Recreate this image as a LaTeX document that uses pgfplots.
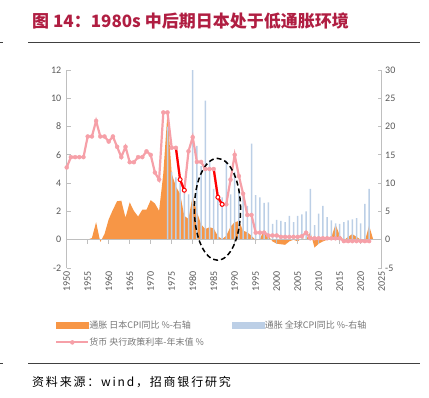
\documentclass[border=0pt]{standalone}
\usepackage{pgfplots}
\pgfplotsset{compat=1.18}
\usepackage{pgfplotstable}
\usepackage{fontspec}
\setmainfont{Carlito}
\newfontfamily\cjk{Noto Sans CJK SC}

\definecolor{orangeA}{RGB}{247,150,70}
\definecolor{barblue}{RGB}{188,207,230}
\definecolor{pinkL}{RGB}{246,160,168}
\definecolor{axisgray}{RGB}{191,191,191}
\definecolor{labelgray}{RGB}{89,89,89}
\definecolor{legendgray}{RGB}{118,118,118}
\definecolor{titlered}{RGB}{176,30,66}
\definecolor{rulegray}{RGB}{64,64,64}

\pgfplotstableread{
year jp
1955 0
1956 0.3
1957 3.1
1958 -0.4
1959 1.0
1960 3.6
1961 5.3
1962 6.8
1963 6.9
1964 3.9
1965 6.6
1966 5.1
1967 4.1
1968 5.3
1969 5.3
1970 7.0
1971 6.4
1972 5.1
1973 11.7
1974 22.5
1975 11.7
1976 9.4
1977 8.1
1978 4.2
1979 3.7
1980 7.8
1981 4.9
1982 2.7
1983 1.9
1984 2.2
1985 2.0
1986 0.6
1987 0.1
1988 0.7
1989 2.3
1990 3.1
1991 3.3
1992 1.6
1993 1.3
1994 0.7
1995 -0.1
1996 0.1
1997 1.8
1998 0.7
1999 -0.3
2000 -0.7
2001 -0.8
2002 -0.9
2003 -0.3
2004 0.0
2005 -0.3
2006 0.3
2007 0.0
2008 1.4
2009 -1.4
2010 -0.7
2011 -0.3
2012 0.0
2013 0.4
2014 2.7
2015 0.8
2016 -0.1
2017 0.5
2018 1.0
2019 0.5
2020 0.0
2021 -0.2
2022 2.5
2023 0.0
}\jpcpi

\pgfplotstableread{
year gl
1974 20
1975 12
1976 11
1977 10
1978 9
1979 8
1980 30
1981 16.6
1982 13
1983 24.6
1984 14
1985 9
1986 7
1987 7.5
1988 14
1989 8
1990 12
1991 9
1992 8
1993 6
1994 17
1995 7.9
1996 7.5
1997 6.5
1998 6.6
1999 2.8
2000 3.5
2001 3.35
2002 3.1
2003 4.2
2004 3.1
2005 4.2
2006 4.5
2007 5.0
2008 9.0
2009 2.6
2010 4.6
2011 6.0
2012 4.0
2013 3.4
2014 2.9
2015 2.8
2016 3.1
2017 3.4
2018 3.6
2019 3.8
2020 2.9
2021 6.35
2022 9.0
}\glcpi

\pgfplotstableread{
year r
1950 5.11
1951 5.84
1952 5.84
1953 5.84
1954 5.84
1955 7.30
1956 7.30
1957 8.40
1958 7.30
1959 7.30
1960 6.94
1961 7.30
1962 6.57
1963 5.84
1964 6.57
1965 5.48
1966 5.48
1967 5.84
1968 5.84
1969 6.25
1970 6.00
1971 4.75
1972 4.25
1973 9.00
1974 9.00
1975 6.50
1976 6.50
1977 4.25
1978 3.50
1979 6.25
1980 7.25
1981 5.50
1982 5.50
1983 5.00
1984 5.00
1985 5.00
1986 3.00
1987 2.50
1988 2.50
1989 4.25
1990 6.00
1991 4.50
1992 3.25
1993 1.75
1994 1.75
1995 0.50
1996 0.50
1997 0.50
1998 0.30
1999 0.30
2000 0.30
2001 0.20
2002 0.20
2003 0.20
2004 0.20
2005 0.20
2006 0.25
2007 0.50
2008 0.10
2009 0.10
2010 0.10
2011 0.10
2012 0.10
2013 0.10
2014 0.10
2015 0.10
2016 -0.10
2017 -0.10
2018 -0.10
2019 -0.10
2020 -0.10
2021 -0.10
2022 -0.10
}\rate

\pgfplotsset{
  swatchO/.style={legend image code/.code={\fill[orangeA] (0pt,-3pt) rectangle (32pt,3pt);}},
  swatchB/.style={legend image code/.code={\fill[barblue] (0pt,-3pt) rectangle (32pt,3pt);}},
  pinkleg/.style={legend image code/.code={\draw[mark repeat=2,mark phase=2,##1] plot coordinates {(0pt,0pt) (16pt,0pt) (32pt,0pt)};}},
}

\begin{document}
\begin{tikzpicture}
\useasboundingbox (0,0) rectangle (429pt,397pt);
\node[anchor=base west, inner sep=0pt, text=titlered, font=\cjk\bfseries\fontsize{17}{19}\selectfont] at (32pt,369.5pt) {图 14：1980s 中后期日本处于低通胀环境};
\draw[rulegray, line width=0.9pt] (28pt,354.7pt) -- (420pt,354.7pt);
\draw[rulegray, line width=0.9pt] (0pt,354.7pt) -- (3pt,354.7pt);
\draw[rulegray, line width=0.9pt] (28pt,33.7pt) -- (420pt,33.7pt);
\draw[rulegray, line width=0.9pt] (0pt,33.7pt) -- (3pt,33.7pt);
\node[anchor=base west, inner sep=0pt, font=\cjk\fontsize{12}{14}\selectfont\addfontfeatures{LetterSpace=15}] at (32pt,10.5pt) {资料来源：wind，招商银行研究};

\begin{axis}[
  at={(66.7pt,129pt)}, anchor=south west, scale only axis,
  width=315pt, height=198pt,
  xmin=1950, xmax=2025, ymin=-5, ymax=30,
  axis y line*=right, axis x line*=bottom,
  x axis line style={draw=none},
  xtick style={draw=none},
  xtick={1950,1955,...,2025},
  /pgf/number format/1000 sep={},
  /pgf/number format/assume math mode=true,
  xticklabel style={rotate=90, anchor=east, font=\fontsize{10}{12}\selectfont, text=labelgray},
  ytick={-5,0,...,30},
  tick align=inside, major tick length=4pt,
  yticklabel style={font=\fontsize{10}{12}\selectfont, text=labelgray},
  y axis line style={draw=axisgray, line width=0.8pt},
  ytick style={draw=axisgray, line width=0.8pt},
]
\addplot[fill=orangeA, draw=none] table[x=year,y=jp]{\jpcpi} \closedcycle;
\addplot[ybar, bar width=1.5pt, fill=barblue, draw=none] table[x=year,y=gl]{\glcpi};
\end{axis}

\begin{axis}[
  at={(66.7pt,129pt)}, anchor=south west, scale only axis,
  width=315pt, height=198pt,
  xmin=1950, xmax=2025, ymin=-2, ymax=12,
  axis y line*=left, axis x line*=middle,
  xtick={1950,1955,...,2025}, xticklabels={},
  ytick={-2,0,...,12},
  /pgf/number format/assume math mode=true,
  tick align=center, major tick length=4pt,
  xtick style={draw=axisgray, line width=0.8pt, yshift=-2pt},
  ytick style={draw=axisgray, line width=0.8pt, xshift=2pt},
  axis line style={draw=axisgray, line width=0.8pt},
  yticklabel style={font=\fontsize{10}{12}\selectfont, text=labelgray},
  legend columns=2,
  legend cell align=left,
  legend style={at={(-0.037,-0.265)}, anchor=north west, draw=none, fill=none,
    font=\cjk\fontsize{9}{11}\selectfont, text=legendgray, inner sep=0pt,
    nodes={inner sep=0pt, anchor=west},
    /tikz/every even column/.append style={column sep=4pt},
    /tikz/row sep=8pt},
]
\addlegendimage{swatchO}
\addlegendentry{\makebox[139pt][l]{通胀 日本CPI同比 \%-右轴}}
\addlegendimage{swatchB}
\addlegendentry{通胀 全球CPI同比 \%-右轴}
\addplot[pinkL, line width=2.2pt, mark=*, mark size=2pt, mark options={fill=pinkL, draw=pinkL, line width=0.4pt}, pinkleg] table[x=year,y=r]{\rate};
\addlegendentry{货币 央行政策利率-年末值 \%}
\addplot[red, line width=2.2pt, forget plot, mark=*, mark indices={2,3}, mark size=2pt, mark options={fill=white, draw=red, line width=1pt}] coordinates {(1976,6.5) (1977,4.25) (1978,3.5)};
\addplot[red, line width=2.2pt, forget plot, mark=*, mark indices={2,3}, mark size=2pt, mark options={fill=white, draw=red, line width=1pt}] coordinates {(1985,5.0) (1986,3.0) (1987,2.5)};
\draw[black, line width=1.5pt, dash pattern=on 5pt off 3pt] (axis cs:1985.9,2.15) ellipse [x radius=5.5, y radius=3.6];
\end{axis}
\end{tikzpicture}
\end{document}
